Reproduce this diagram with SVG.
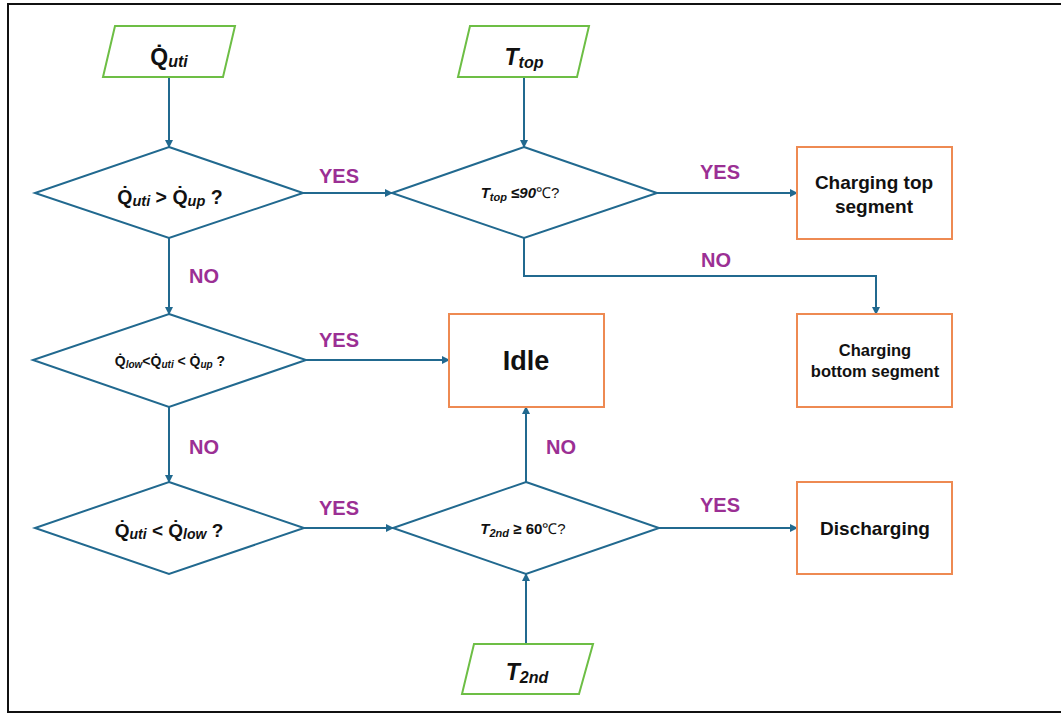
<svg xmlns="http://www.w3.org/2000/svg" width="1061" height="713" viewBox="0 0 1061 713">
<defs>
<marker id="arr" markerWidth="8" markerHeight="8" refX="7" refY="4" orient="auto" markerUnits="userSpaceOnUse">
<path d="M0,0 L8,4 L0,8 Z" fill="#21698F"/>
</marker>
<style>
.frame{fill:#fff;stroke:#111;stroke-width:2}
.in{fill:#fff;stroke:#6DBE45;stroke-width:2}
.dia{fill:#fff;stroke:#21698F;stroke-width:2}
.box{fill:#fff;stroke:#EE8A52;stroke-width:2}
.con{fill:none;stroke:#21698F;stroke-width:2;marker-end:url(#arr)}
text{font-family:"Liberation Sans",Arial,sans-serif;font-weight:bold;fill:#111;text-anchor:middle}
.lab{fill:#9B2F94;font-size:20px}
.it{font-style:italic}
</style>
</defs>
<rect class="frame" x="8" y="4" width="1062" height="708"/>
<g id="connectors">
<path class="con" d="M169,77 V147"/>
<path class="con" d="M524,77 V147"/>
<path class="con" d="M303,193 H392"/>
<path class="con" d="M657,193 H797"/>
<path class="con" d="M524,238 V276 H876 V314"/>
<path class="con" d="M169,238 V314"/>
<path class="con" d="M306,360 H449"/>
<path class="con" d="M169,407 V482"/>
<path class="con" d="M304,528 H393"/>
<path class="con" d="M659,528 H797"/>
<path class="con" d="M526,482 V407"/>
<path class="con" d="M526,644 V574"/>
<text class="lab" x="339" y="183">YES</text>
<text class="lab" x="720" y="179">YES</text>
<text class="lab" x="716" y="267">NO</text>
<text class="lab" x="204" y="283">NO</text>
<text class="lab" x="339" y="347">YES</text>
<text class="lab" x="204" y="454">NO</text>
<text class="lab" x="339" y="515">YES</text>
<text class="lab" x="720" y="512">YES</text>
<text class="lab" x="561" y="454">NO</text>
</g>
<g id="in_quti">
<polygon class="in" points="115,26 235,26 223,77 103,77"/>
<text x="169" y="65" font-size="23">Q̇<tspan class="it" font-size="16" dy="2">uti</tspan></text>
</g>
<g id="in_ttop">
<polygon class="in" points="470,26 589,26 577,77 458,77"/>
<text class="it" x="524" y="65" font-size="23">T<tspan font-size="16" dy="3">top</tspan></text>
</g>
<g id="in_t2nd">
<polygon class="in" points="474,644 593,644 579,694 462,694"/>
<text class="it" x="527" y="680" font-size="23">T<tspan font-size="16" dy="3">2nd</tspan></text>
</g>
<g id="d1">
<polygon class="dia" points="169,147 303,193 169,238 35,193"/>
<text x="170" y="204" font-size="19.5">Q̇<tspan class="it" font-size="14.5" dy="2">uti</tspan><tspan dy="-2"> &gt; Q̇</tspan><tspan class="it" font-size="14.5" dy="2">up</tspan><tspan dy="-2"> ?</tspan></text>
</g>
<g id="d2">
<polygon class="dia" points="524,147 657,193 524,238 392,193"/>
<text x="520" y="198" font-size="15"><tspan class="it">T</tspan><tspan class="it" font-size="11" dy="3">top</tspan><tspan dy="-3"> </tspan><tspan class="it">≤90</tspan><tspan font-weight="normal">℃?</tspan></text>
</g>
<g id="d3">
<polygon class="dia" points="169,314 306,360 169,407 33,360"/>
<text x="170" y="366" font-size="14">Q̇<tspan class="it" font-size="10" dy="2">low</tspan><tspan dy="-2">&lt;Q̇</tspan><tspan class="it" font-size="10" dy="2">uti</tspan><tspan dy="-2"> &lt; Q̇</tspan><tspan class="it" font-size="10" dy="2">up</tspan><tspan dy="-2"> ?</tspan></text>
</g>
<g id="d4">
<polygon class="dia" points="169,482 304,528 169,574 35,528"/>
<text x="169" y="537" font-size="19">Q̇<tspan class="it" font-size="14" dy="2">uti</tspan><tspan dy="-2"> &lt; Q̇</tspan><tspan class="it" font-size="14" dy="2">low</tspan><tspan dy="-2"> ?</tspan></text>
</g>
<g id="d5">
<polygon class="dia" points="526,482 659,528 526,574 393,528"/>
<text x="523" y="534" font-size="15"><tspan class="it">T</tspan><tspan class="it" font-size="11" dy="3">2nd</tspan><tspan dy="-3"> ≥ 60</tspan><tspan font-weight="normal">℃?</tspan></text>
</g>
<g id="b_top">
<rect class="box" x="797" y="147" width="155" height="92"/>
<text x="874" y="189" font-size="19">Charging top</text>
<text x="874" y="213" font-size="19">segment</text>
</g>
<g id="b_bottom">
<rect class="box" x="797" y="314" width="155" height="93"/>
<text x="875" y="356" font-size="16.5">Charging</text>
<text x="875" y="377" font-size="16.5">bottom segment</text>
</g>
<g id="b_idle">
<rect class="box" x="449" y="314" width="155" height="93"/>
<text x="526" y="370" font-size="27">Idle</text>
</g>
<g id="b_dis">
<rect class="box" x="797" y="482" width="155" height="92"/>
<text x="875" y="535" font-size="19">Discharging</text>
</g>
</svg>
